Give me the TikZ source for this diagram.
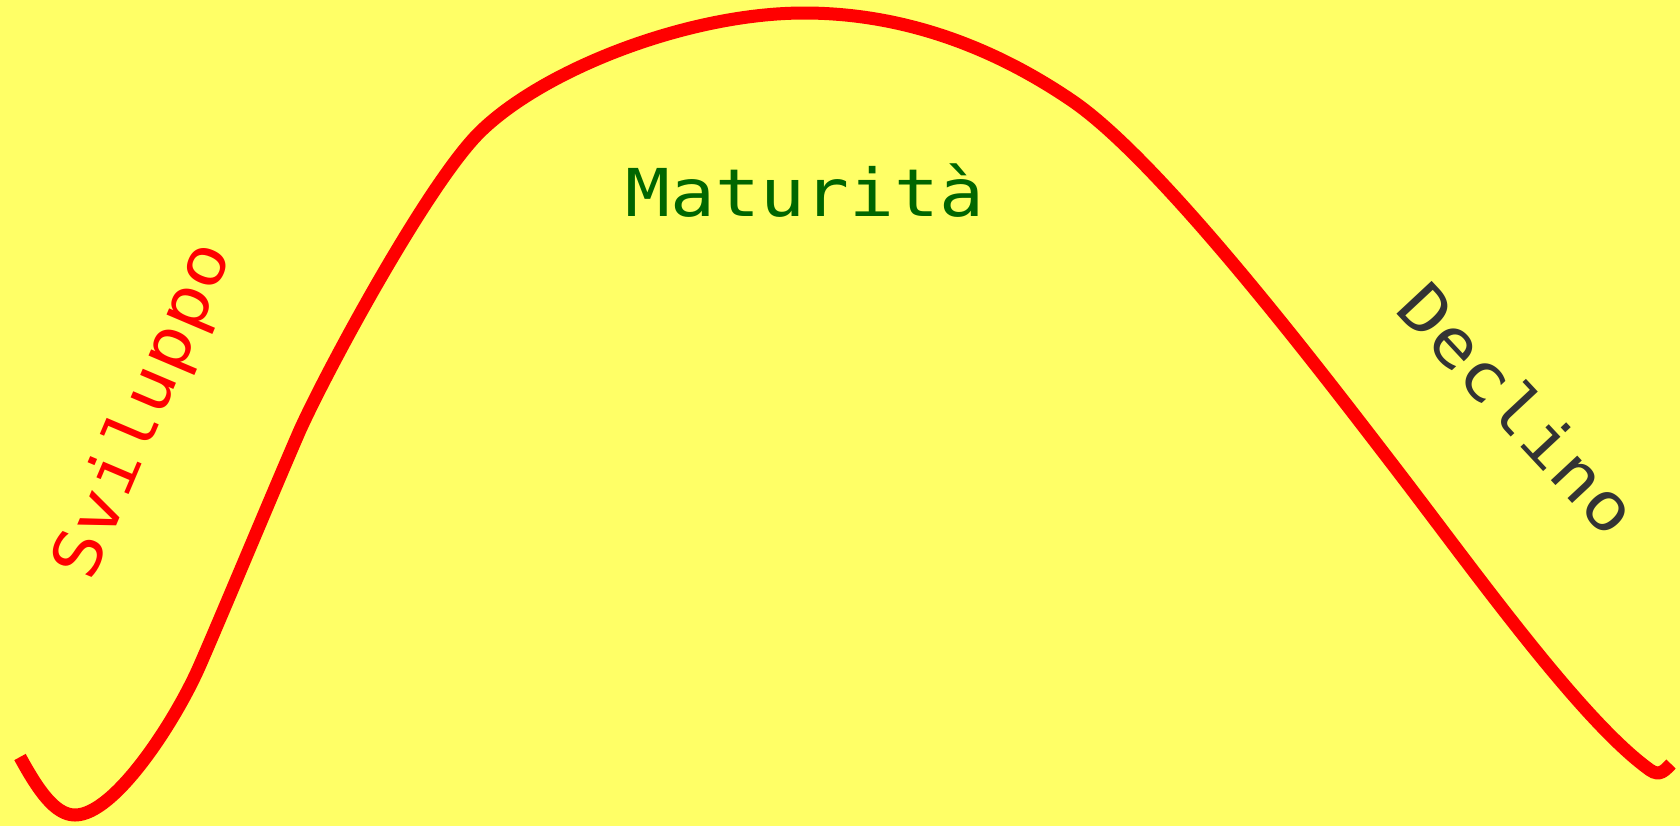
\documentclass[tikz,border=0pt]{standalone}
\usepackage{fontspec}
\setmonofont[FakeStretch=1.13]{DejaVu Sans Mono}
\usepackage{tikz}

\definecolor{sfondo}{HTML}{FFFF66}
\definecolor{verdone}{HTML}{006600}
\definecolor{grigio}{HTML}{333333}

\tikzset{fase/.style={font=\ttfamily\fontsize{33}{40}\selectfont, inner sep=0pt}}

\begin{document}
\begin{tikzpicture}[x=0.5pt, y=-0.5pt]
        \fill[sfondo] (0,0) rectangle (1680,826);
        \useasboundingbox (0,0) rectangle (1680,826);
        \coordinate (I) at (20,757);
        \coordinate (Mn) at (75,815);
        \coordinate (B) at (200,665);
        \coordinate (S) at (300,430);
        \coordinate (K) at (482,130);
        \coordinate (P) at (804,13);
        \coordinate (D) at (1071,100);
        \coordinate (R) at (1393,465);
        \coordinate (E) at (1650,770);
        \coordinate (F) at (1671,764);
        \draw[red, line width=6.5pt]
            (I) .. controls (38,790) and (55,815) .. (Mn)
            .. controls (115,815) and (176,720) .. (B)
            .. controls (224,610) and (276,485) .. (S)
            .. controls (329,366) and (431,178) .. (K)
            .. controls (547,68) and (690,13) .. (P)
            .. controls (900,13) and (990,45) .. (D)
            .. controls (1160,160) and (1320,370) .. (R)
            .. controls (1470,565) and (1580,720) .. (E)
            .. controls (1660,777) and (1665,770) .. (F);
        \node[fase, text=verdone, anchor=base] (mat) at (805,216) {Maturità};
        \node[fase, text=red, rotate=67] (svi) at (145,411) {Sviluppo};
        \node[fase, text=grigio, rotate=-47] (dec) at (1519,409) {Declino};
    \end{tikzpicture}
\end{document}
